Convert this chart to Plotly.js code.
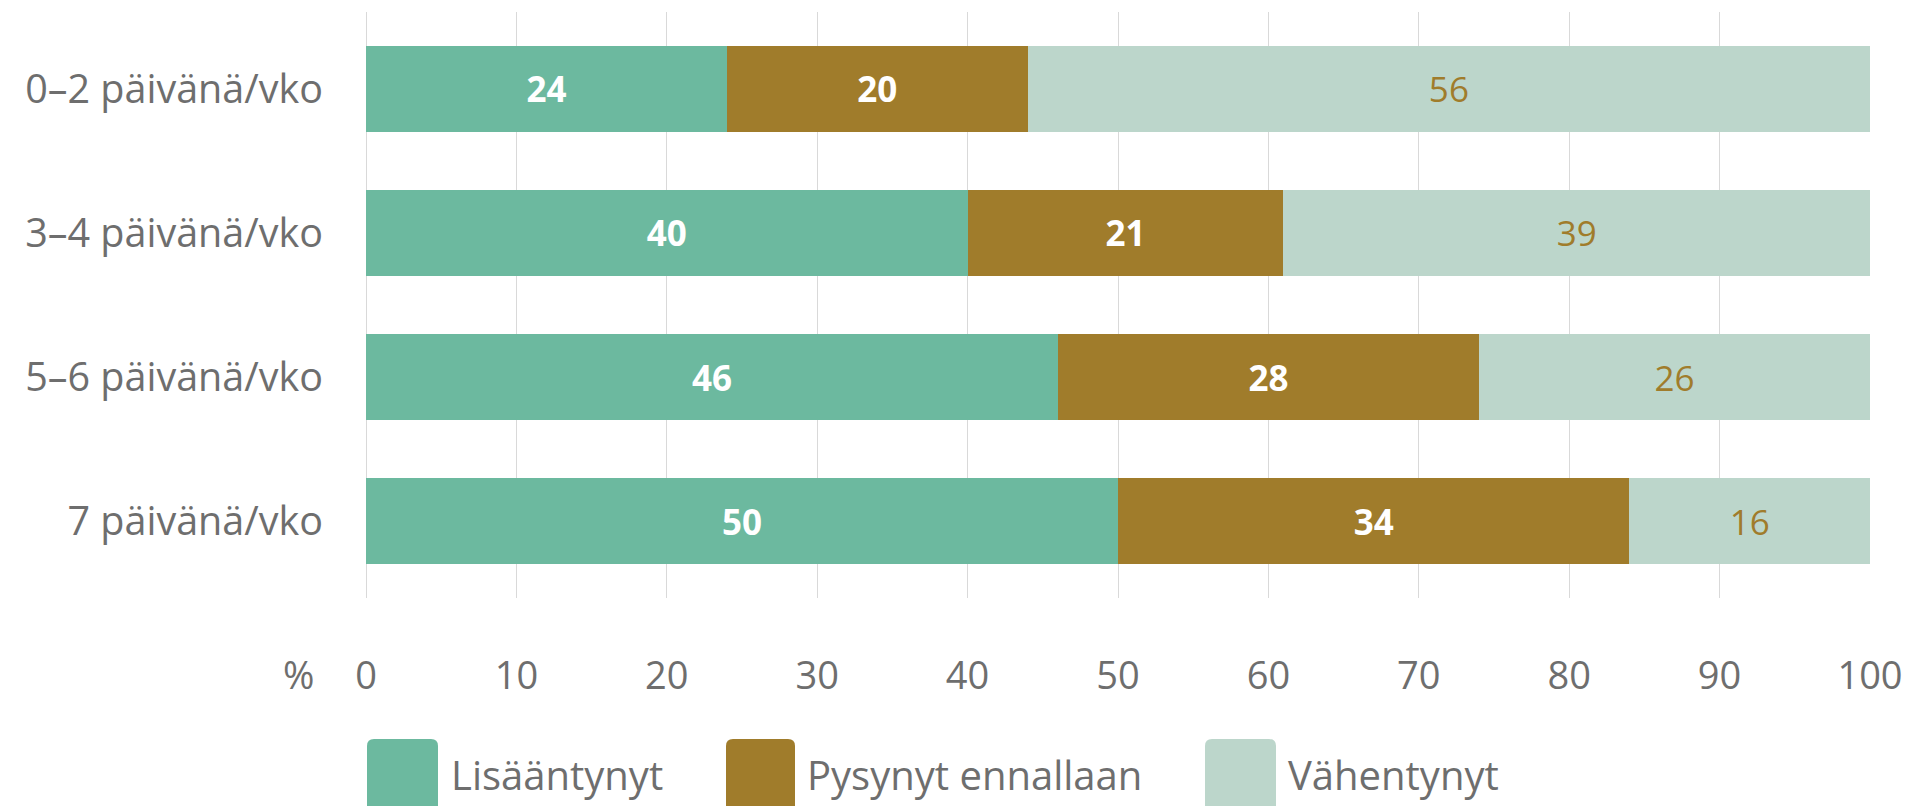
<!DOCTYPE html>
<html>
<head>
<meta charset="utf-8">
<script src="https://cdn.plot.ly/plotly-3.0.1.min.js"></script>
<style>
html,body{margin:0;padding:0;background:#fff;}
#chart{width:1921px;height:806px;}
</style>
</head>
<body>
<div id="chart"></div>
<script>
const categories = ["0–2 päivänä/vko", "3–4 päivänä/vko", "5–6 päivänä/vko", "7 päivänä/vko"];
const seriesNames = ["Lisääntynyt", "Pysynyt ennallaan", "Vähentynyt"];
const lisaantynyt = [24, 40, 46, 50];
const pysynyt = [20, 21, 28, 34];
const vahentynyt = [56, 39, 26, 16];
const xTicks = [0, 10, 20, 30, 40, 50, 60, 70, 80, 90, 100];

const colors = ["#6cb99f", "#a07c2b", "#bcd6cb"];
const labelColors = ["#ffffff", "#ffffff", "#a07c2b"];
const labelWeights = ["bold", "bold", "normal"];
const FONT = "Open Sans, Lato, sans-serif";
const GRAY = "#6e6e6e";

const W = 1921, H = 806;
const M = {l: 366, r: 51, t: 12, b: 208};
const plotW = W - M.l - M.r, plotH = H - M.t - M.b;
const px2x = p => (p - M.l) / plotW;
const py2y = p => (H - M.b - p) / plotH;

const allSeries = [lisaantynyt, pysynyt, vahentynyt];
const traces = allSeries.map((vals, i) => ({
  type: "bar",
  orientation: "h",
  name: seriesNames[i],
  y: categories,
  x: vals,
  text: vals.map(String),
  textposition: "inside",
  insidetextanchor: "middle",
  textangle: 0,
  insidetextfont: {family: FONT, size: 35, color: labelColors[i], weight: labelWeights[i]},
  marker: {color: colors[i], line: {width: 0}},
  hoverinfo: "skip"
}));

// custom legend (large rounded squares)
const legendItems = [
  {sq: [367, 438], tx: 449},
  {sq: [726, 795], tx: 805},
  {sq: [1205, 1276], tx: 1286}
];
function roundedRect(x0, y0, x1, y1, r) {
  const X = v => px2x(v), Y = v => py2y(v);
  const rx = r / plotW, ry = r / plotH;
  return `M${X(x0)+rx},${Y(y0)} L${X(x1)-rx},${Y(y0)} Q${X(x1)},${Y(y0)} ${X(x1)},${Y(y0)-ry} ` +
         `L${X(x1)},${Y(y1)} L${X(x0)},${Y(y1)} L${X(x0)},${Y(y0)-ry} Q${X(x0)},${Y(y0)} ${X(x0)+rx},${Y(y0)} Z`;
}
const shapes = legendItems.map((it, i) => ({
  type: "path",
  xref: "paper", yref: "paper",
  path: roundedRect(it.sq[0], 739, it.sq[1], 812, 7),
  fillcolor: colors[i],
  line: {width: 0},
  layer: "above"
}));
const annotations = legendItems.map((it, i) => ({
  xref: "paper", yref: "paper",
  x: px2x(it.tx), y: py2y(774),
  xanchor: "left", yanchor: "middle",
  text: seriesNames[i],
  showarrow: false,
  font: {family: FONT, size: 40, color: GRAY}
}));
annotations.push({
  xref: "paper", yref: "paper",
  x: px2x(298), y: py2y(674),
  xanchor: "center", yanchor: "middle",
  text: "%",
  showarrow: false,
  font: {family: FONT, size: 38, color: GRAY}
});

const layout = {
  width: W, height: H,
  margin: M,
  barmode: "stack",
  bargap: 0.403,
  showlegend: false,
  paper_bgcolor: "#ffffff",
  plot_bgcolor: "#ffffff",
  font: {family: FONT, color: GRAY},
  xaxis: {
    range: [0, 100],
    tickvals: xTicks,
    ticktext: xTicks.map(String),
    showgrid: true,
    gridcolor: "#d9d9d9",
    gridwidth: 1,
    zeroline: true,
    zerolinecolor: "#d9d9d9",
    zerolinewidth: 1,
    showline: false,
    ticks: "",
    ticklabelstandoff: 52,
    tickfont: {family: FONT, size: 38, color: GRAY},
    fixedrange: true
  },
  yaxis: {
    type: "category",
    categoryorder: "array",
    categoryarray: categories,
    range: [3.533, -0.533],
    showgrid: false,
    zeroline: false,
    showline: false,
    ticks: "",
    ticklabelstandoff: 42,
    tickfont: {family: FONT, size: 39.5, color: GRAY},
    fixedrange: true
  },
  shapes: shapes,
  annotations: annotations
};

Plotly.newPlot("chart", traces, layout, {displayModeBar: false, staticPlot: true});
</script>
</body>
</html>
